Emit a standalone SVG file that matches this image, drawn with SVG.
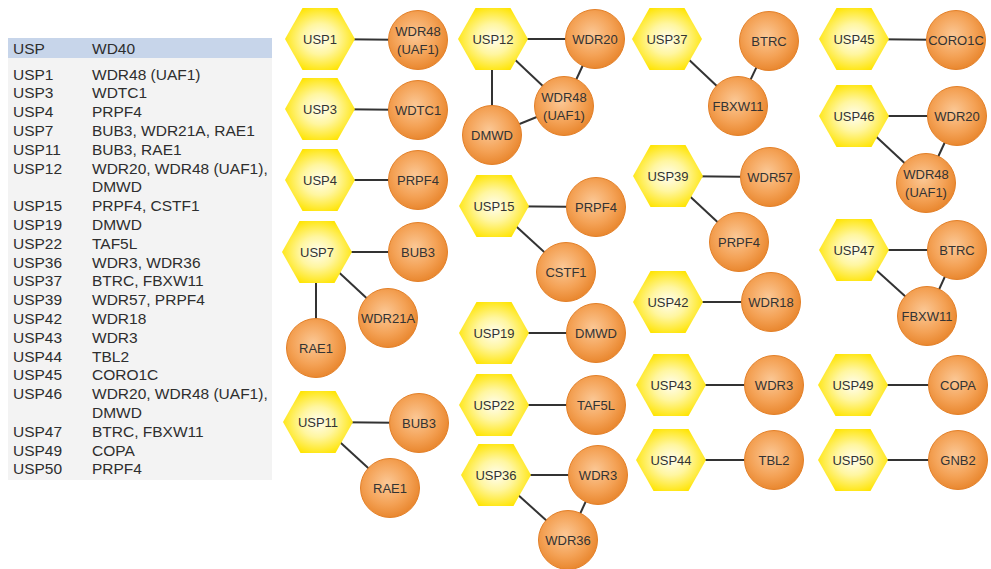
<svg xmlns="http://www.w3.org/2000/svg" xmlns:xlink="http://www.w3.org/1999/xlink" width="991" height="569" viewBox="0 0 991 569">
<defs>
<radialGradient id="hexg" cx="50%" cy="50%" r="55%">
<stop offset="0" stop-color="#fffdf0"/>
<stop offset="0.45" stop-color="#fff6a0"/>
<stop offset="1" stop-color="#ffe400"/>
</radialGradient>
<radialGradient id="cirg" cx="45%" cy="42%" r="60%">
<stop offset="0" stop-color="#fbc896"/>
<stop offset="0.6" stop-color="#f4a256"/>
<stop offset="1" stop-color="#e8852c"/>
</radialGradient>
<polygon id="hex" points="-35,0 -17.5,-31 17.5,-31 35,0 17.5,31 -17.5,31"/>
</defs>
<style>
.hex{fill:url(#hexg);}
.cir{fill:url(#cirg);stroke:#e38028;stroke-width:1;}
.lbl{font-family:"Liberation Sans",Arial,sans-serif;font-size:13px;fill:#333;text-anchor:middle;dominant-baseline:central;}
.tb{font-family:"Liberation Sans",Arial,sans-serif;font-size:15.5px;fill:#2e2e2e;dominant-baseline:central;}
.edge line{stroke:#333;stroke-width:2;}
</style>
<rect width="991" height="569" fill="#ffffff"/>
<g id="table">
<rect x="8" y="38" width="264" height="20" fill="#c7d5ea"/>
<rect x="8" y="58" width="264" height="422" fill="#f3f3f3"/>
<text class="tb" x="13" y="48">USP</text><text class="tb" x="92" y="48">WD40</text>
<text class="tb" x="13" y="74">USP1</text><text class="tb" x="92" y="74">WDR48 (UAF1)</text>
<text class="tb" x="13" y="92.8">USP3</text><text class="tb" x="92" y="92.8">WDTC1</text>
<text class="tb" x="13" y="111.6">USP4</text><text class="tb" x="92" y="111.6">PRPF4</text>
<text class="tb" x="13" y="130.4">USP7</text><text class="tb" x="92" y="130.4">BUB3, WDR21A, RAE1</text>
<text class="tb" x="13" y="149.2">USP11</text><text class="tb" x="92" y="149.2">BUB3, RAE1</text>
<text class="tb" x="13" y="168">USP12</text><text class="tb" x="92" y="168">WDR20, WDR48 (UAF1),</text>
<text class="tb" x="92" y="186.8">DMWD</text>
<text class="tb" x="13" y="205.6">USP15</text><text class="tb" x="92" y="205.6">PRPF4, CSTF1</text>
<text class="tb" x="13" y="224.4">USP19</text><text class="tb" x="92" y="224.4">DMWD</text>
<text class="tb" x="13" y="243.2">USP22</text><text class="tb" x="92" y="243.2">TAF5L</text>
<text class="tb" x="13" y="262">USP36</text><text class="tb" x="92" y="262">WDR3, WDR36</text>
<text class="tb" x="13" y="280.8">USP37</text><text class="tb" x="92" y="280.8">BTRC, FBXW11</text>
<text class="tb" x="13" y="299.6">USP39</text><text class="tb" x="92" y="299.6">WDR57, PRPF4</text>
<text class="tb" x="13" y="318.4">USP42</text><text class="tb" x="92" y="318.4">WDR18</text>
<text class="tb" x="13" y="337.2">USP43</text><text class="tb" x="92" y="337.2">WDR3</text>
<text class="tb" x="13" y="356">USP44</text><text class="tb" x="92" y="356">TBL2</text>
<text class="tb" x="13" y="374.8">USP45</text><text class="tb" x="92" y="374.8">CORO1C</text>
<text class="tb" x="13" y="393.6">USP46</text><text class="tb" x="92" y="393.6">WDR20, WDR48 (UAF1),</text>
<text class="tb" x="92" y="412.4">DMWD</text>
<text class="tb" x="13" y="431.2">USP47</text><text class="tb" x="92" y="431.2">BTRC, FBXW11</text>
<text class="tb" x="13" y="450">USP49</text><text class="tb" x="92" y="450">COPA</text>
<text class="tb" x="13" y="468.8">USP50</text><text class="tb" x="92" y="468.8">PRPF4</text>
</g>
<g id="connectors" class="edge">
<line x1="320" y1="39" x2="418" y2="40"/>
<line x1="320" y1="109" x2="418" y2="110"/>
<line x1="320" y1="180" x2="418" y2="180"/>
<line x1="317" y1="252" x2="418" y2="252"/>
<line x1="317" y1="252" x2="388" y2="318"/>
<line x1="316" y1="252" x2="316" y2="348"/>
<line x1="318" y1="422" x2="419" y2="423"/>
<line x1="318" y1="422" x2="390" y2="488"/>
<line x1="493" y1="39" x2="595" y2="39"/>
<line x1="493" y1="39" x2="564" y2="106"/>
<line x1="492" y1="39" x2="492" y2="135"/>
<line x1="595" y1="39" x2="564" y2="106"/>
<line x1="564" y1="106" x2="492" y2="135"/>
<line x1="494" y1="206" x2="596" y2="207"/>
<line x1="494" y1="206" x2="566" y2="272"/>
<line x1="494" y1="333" x2="596" y2="333"/>
<line x1="494" y1="405" x2="596" y2="405"/>
<line x1="496" y1="475" x2="598" y2="475"/>
<line x1="496" y1="475" x2="568" y2="540"/>
<line x1="598" y1="475" x2="568" y2="540"/>
<line x1="667" y1="39" x2="738" y2="106"/>
<line x1="769" y1="41" x2="738" y2="106"/>
<line x1="668" y1="176" x2="770" y2="177"/>
<line x1="668" y1="176" x2="739" y2="242"/>
<line x1="668" y1="302" x2="771" y2="302"/>
<line x1="671" y1="385" x2="774" y2="385"/>
<line x1="671" y1="460" x2="774" y2="460"/>
<line x1="854" y1="39" x2="956" y2="40"/>
<line x1="854" y1="116" x2="957" y2="116"/>
<line x1="854" y1="116" x2="926" y2="183"/>
<line x1="957" y1="116" x2="926" y2="183"/>
<line x1="854" y1="250" x2="957" y2="250"/>
<line x1="854" y1="250" x2="927" y2="316"/>
<line x1="957" y1="250" x2="927" y2="316"/>
<line x1="853" y1="385" x2="958" y2="385"/>
<line x1="853" y1="460" x2="958" y2="460"/>
</g>
<g id="usp1"><use href="#hex" class="hex" x="320" y="39"/><text class="lbl" x="320" y="39">USP1</text></g>
<g id="usp1-wdr48"><circle class="cir" cx="418" cy="40" r="29.5"/><text class="lbl" x="418" y="31">WDR48</text><text class="lbl" x="418" y="49">(UAF1)</text></g>
<g id="usp3"><use href="#hex" class="hex" x="320" y="109"/><text class="lbl" x="320" y="109">USP3</text></g>
<g id="usp3-wdtc1"><circle class="cir" cx="418" cy="110" r="29.5"/><text class="lbl" x="418" y="110">WDTC1</text></g>
<g id="usp4"><use href="#hex" class="hex" x="320" y="180"/><text class="lbl" x="320" y="180">USP4</text></g>
<g id="usp4-prpf4"><circle class="cir" cx="418" cy="180" r="29.5"/><text class="lbl" x="418" y="180">PRPF4</text></g>
<g id="usp7"><use href="#hex" class="hex" x="317" y="252"/><text class="lbl" x="317" y="252">USP7</text></g>
<g id="usp7-bub3"><circle class="cir" cx="418" cy="252" r="29.5"/><text class="lbl" x="418" y="252">BUB3</text></g>
<g id="usp7-wdr21a"><circle class="cir" cx="388" cy="318" r="29.5"/><text class="lbl" x="388" y="318">WDR21A</text></g>
<g id="usp7-rae1"><circle class="cir" cx="316" cy="348" r="29.5"/><text class="lbl" x="316" y="348">RAE1</text></g>
<g id="usp11"><use href="#hex" class="hex" x="318" y="422"/><text class="lbl" x="318" y="422">USP11</text></g>
<g id="usp11-bub3"><circle class="cir" cx="419" cy="423" r="29.5"/><text class="lbl" x="419" y="423">BUB3</text></g>
<g id="usp11-rae1"><circle class="cir" cx="390" cy="488" r="29.5"/><text class="lbl" x="390" y="488">RAE1</text></g>
<g id="usp12"><use href="#hex" class="hex" x="493" y="39"/><text class="lbl" x="493" y="39">USP12</text></g>
<g id="usp12-wdr20"><circle class="cir" cx="595" cy="39" r="29.5"/><text class="lbl" x="595" y="39">WDR20</text></g>
<g id="usp12-wdr48"><circle class="cir" cx="564" cy="106" r="29.5"/><text class="lbl" x="564" y="97">WDR48</text><text class="lbl" x="564" y="115">(UAF1)</text></g>
<g id="usp12-dmwd"><circle class="cir" cx="492" cy="135" r="29.5"/><text class="lbl" x="492" y="135">DMWD</text></g>
<g id="usp15"><use href="#hex" class="hex" x="494" y="206"/><text class="lbl" x="494" y="206">USP15</text></g>
<g id="usp15-prpf4"><circle class="cir" cx="596" cy="207" r="29.5"/><text class="lbl" x="596" y="207">PRPF4</text></g>
<g id="usp15-cstf1"><circle class="cir" cx="566" cy="272" r="29.5"/><text class="lbl" x="566" y="272">CSTF1</text></g>
<g id="usp19"><use href="#hex" class="hex" x="494" y="333"/><text class="lbl" x="494" y="333">USP19</text></g>
<g id="usp19-dmwd"><circle class="cir" cx="596" cy="333" r="29.5"/><text class="lbl" x="596" y="333">DMWD</text></g>
<g id="usp22"><use href="#hex" class="hex" x="494" y="405"/><text class="lbl" x="494" y="405">USP22</text></g>
<g id="usp22-taf5l"><circle class="cir" cx="596" cy="405" r="29.5"/><text class="lbl" x="596" y="405">TAF5L</text></g>
<g id="usp36"><use href="#hex" class="hex" x="496" y="475"/><text class="lbl" x="496" y="475">USP36</text></g>
<g id="usp36-wdr3"><circle class="cir" cx="598" cy="475" r="29.5"/><text class="lbl" x="598" y="475">WDR3</text></g>
<g id="usp36-wdr36"><circle class="cir" cx="568" cy="540" r="29.5"/><text class="lbl" x="568" y="540">WDR36</text></g>
<g id="usp37"><use href="#hex" class="hex" x="667" y="39"/><text class="lbl" x="667" y="39">USP37</text></g>
<g id="usp37-btrc"><circle class="cir" cx="769" cy="41" r="29.5"/><text class="lbl" x="769" y="41">BTRC</text></g>
<g id="usp37-fbxw11"><circle class="cir" cx="738" cy="106" r="29.5"/><text class="lbl" x="738" y="106">FBXW11</text></g>
<g id="usp39"><use href="#hex" class="hex" x="668" y="176"/><text class="lbl" x="668" y="176">USP39</text></g>
<g id="usp39-wdr57"><circle class="cir" cx="770" cy="177" r="29.5"/><text class="lbl" x="770" y="177">WDR57</text></g>
<g id="usp39-prpf4"><circle class="cir" cx="739" cy="242" r="29.5"/><text class="lbl" x="739" y="242">PRPF4</text></g>
<g id="usp42"><use href="#hex" class="hex" x="668" y="302"/><text class="lbl" x="668" y="302">USP42</text></g>
<g id="usp42-wdr18"><circle class="cir" cx="771" cy="302" r="29.5"/><text class="lbl" x="771" y="302">WDR18</text></g>
<g id="usp43"><use href="#hex" class="hex" x="671" y="385"/><text class="lbl" x="671" y="385">USP43</text></g>
<g id="usp43-wdr3"><circle class="cir" cx="774" cy="385" r="29.5"/><text class="lbl" x="774" y="385">WDR3</text></g>
<g id="usp44"><use href="#hex" class="hex" x="671" y="460"/><text class="lbl" x="671" y="460">USP44</text></g>
<g id="usp44-tbl2"><circle class="cir" cx="774" cy="460" r="29.5"/><text class="lbl" x="774" y="460">TBL2</text></g>
<g id="usp45"><use href="#hex" class="hex" x="854" y="39"/><text class="lbl" x="854" y="39">USP45</text></g>
<g id="usp45-coro1c"><circle class="cir" cx="956" cy="40" r="29.5"/><text class="lbl" x="956" y="40">CORO1C</text></g>
<g id="usp46"><use href="#hex" class="hex" x="854" y="116"/><text class="lbl" x="854" y="116">USP46</text></g>
<g id="usp46-wdr20"><circle class="cir" cx="957" cy="116" r="29.5"/><text class="lbl" x="957" y="116">WDR20</text></g>
<g id="usp46-wdr48"><circle class="cir" cx="926" cy="183" r="29.5"/><text class="lbl" x="926" y="174">WDR48</text><text class="lbl" x="926" y="192">(UAF1)</text></g>
<g id="usp47"><use href="#hex" class="hex" x="854" y="250"/><text class="lbl" x="854" y="250">USP47</text></g>
<g id="usp47-btrc"><circle class="cir" cx="957" cy="250" r="29.5"/><text class="lbl" x="957" y="250">BTRC</text></g>
<g id="usp47-fbxw11"><circle class="cir" cx="927" cy="316" r="29.5"/><text class="lbl" x="927" y="316">FBXW11</text></g>
<g id="usp49"><use href="#hex" class="hex" x="853" y="385"/><text class="lbl" x="853" y="385">USP49</text></g>
<g id="usp49-copa"><circle class="cir" cx="958" cy="385" r="29.5"/><text class="lbl" x="958" y="385">COPA</text></g>
<g id="usp50"><use href="#hex" class="hex" x="853" y="460"/><text class="lbl" x="853" y="460">USP50</text></g>
<g id="usp50-gnb2"><circle class="cir" cx="958" cy="460" r="29.5"/><text class="lbl" x="958" y="460">GNB2</text></g>
</svg>
